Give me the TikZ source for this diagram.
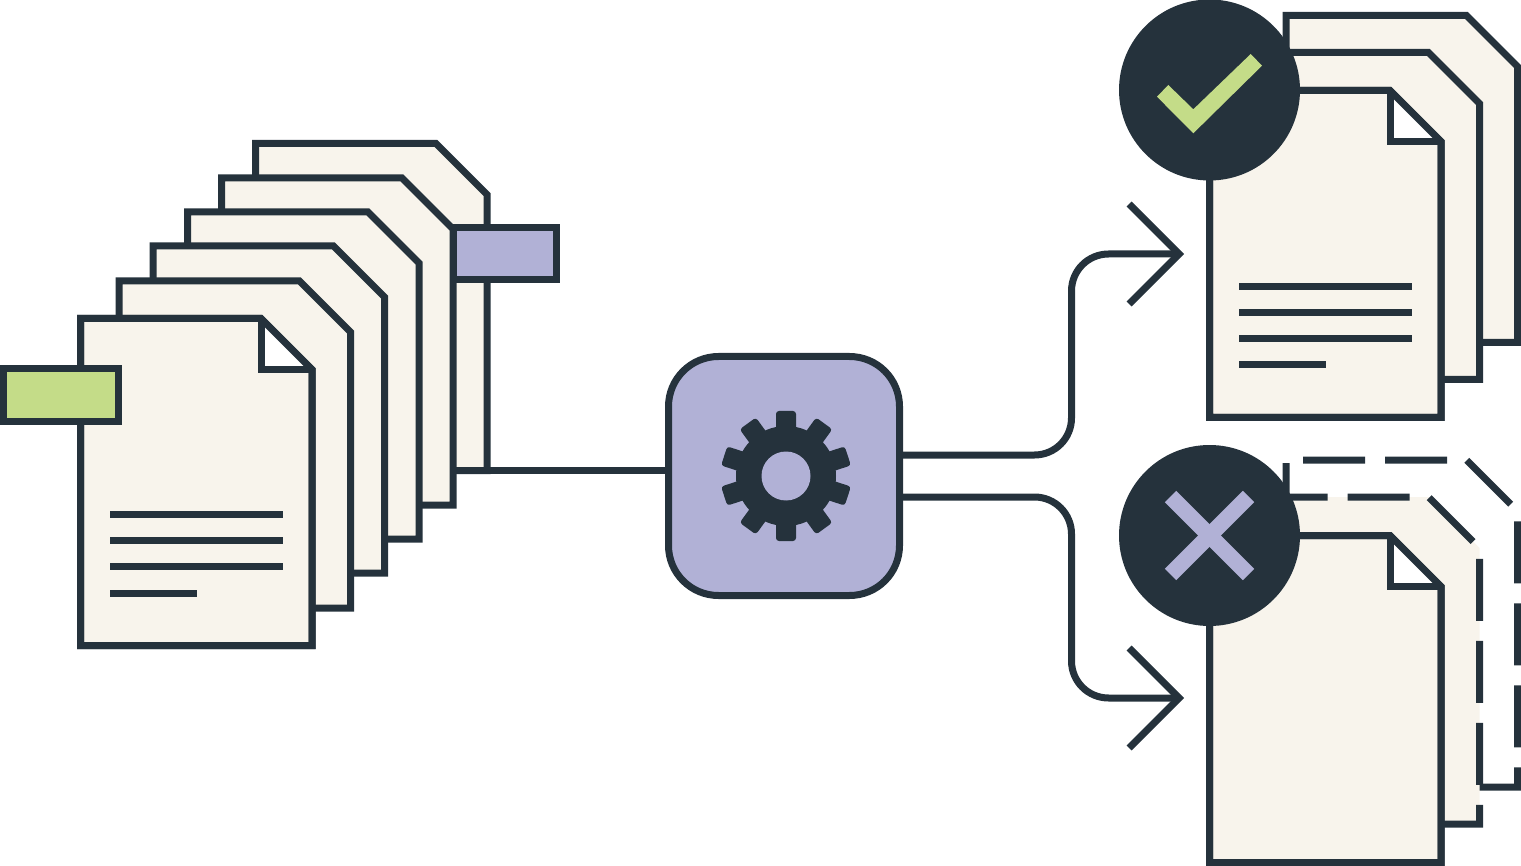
\documentclass[tikz,border=0pt]{standalone}
\usepackage{tikz}
\usetikzlibrary{arrows.meta,calc}
\definecolor{ink}{HTML}{25323C}
\definecolor{paper}{HTML}{F8F4EC}
\definecolor{lilac}{HTML}{B1B1D6}
\definecolor{leaf}{HTML}{C4DC88}
\tikzstyle{sheetbox}=[rectangle,anchor=north west,minimum width=231.5pt,minimum height=327pt,inner sep=0pt,outer sep=0pt]
\tikzstyle{sheetline}=[draw=ink,fill=paper]
\tikzstyle{gapline}=[draw=ink,dash pattern=on 62pt off 20pt]
\tikzstyle{tagbox}=[draw=ink,rectangle,inner sep=0pt,outer sep=0pt]
\tikzstyle{badge}=[fill=ink,circle,minimum size=181pt,inner sep=0pt,outer sep=0pt]
\tikzstyle{link}=[draw=ink,line width=7pt,rounded corners=37pt,-{Straight Barb[length=50pt,width=100pt,line width=7pt]}]
\newcommand{\docsheet}[3]{
  \node [sheetbox] (#1) at (#2,#3) {};
  \draw [sheetline] (#1.north west) -- ($(#1.north east)+(-51,0)$) -- ($(#1.north east)+(0,51)$)
    -- (#1.south east) -- (#1.south west) -- cycle;
}
\newcommand{\foldmark}[1]{
  \fill [white] ($(#1.north east)+(-51,0)$) -- ($(#1.north east)+(-51,51)$)
    -- ($(#1.north east)+(0,51)$) -- cycle;
  \draw [ink] (#1.north west) -- ($(#1.north east)+(-51,0)$) -- ($(#1.north east)+(0,51)$)
    -- (#1.south east) -- (#1.south west) -- cycle;
  \draw [ink] ($(#1.north east)+(-51,0)$) -- ($(#1.north east)+(-51,51)$) -- ($(#1.north east)+(0,51)$);
}
\newcommand{\textrows}[1]{
  \foreach \rowy in {196,222,248}
    \draw [ink] ($(#1.north west)+(29.5,\rowy)$) -- ($(#1.north west)+(202.5,\rowy)$);
  \draw [ink] ($(#1.north west)+(29.5,274.5)$) -- ($(#1.north west)+(116,274.5)$);
}
\begin{document}
\begin{tikzpicture}[x=1pt,y=-1pt,line width=7pt]
    \useasboundingbox (0,0) rectangle (1521,866);

    \docsheet{sheeta}{255.5}{143.5}
    \docsheet{sheetb}{221.5}{178}
    \docsheet{sheetc}{187.5}{212}
    \docsheet{sheetd}{153}{246}
    \docsheet{sheete}{119}{281}
    \docsheet{sheetf}{80.5}{318.5}
    \foldmark{sheetf}
    \textrows{sheetf}
    \node [tagbox,fill=leaf,minimum width=115pt,minimum height=53pt] (greentag) at (61,395.5) {};
    \node [tagbox,fill=lilac,minimum width=103pt,minimum height=52pt] (lilactag) at (505,253.5) {};

    \node [draw=ink,fill=lilac,rectangle,rounded corners=50pt,minimum width=231pt,minimum height=239pt,outer sep=0pt] (gearbox) at (784,476) {};
    \draw [ink] (sheeta.south east) -- (sheeta.south east -| gearbox.west);

    \coordinate (gearhub) at ($(gearbox.center)+(2,0)$);
    \fill [ink] (gearhub) circle (50);
    \foreach \toothangle in {18,54,...,342}
      \fill [ink,rounded corners=3pt,shift={(gearhub)},rotate=\toothangle]
        (45,-10) -- (65,-10) -- (65,10) -- (45,10) -- cycle;
    \node [fill=lilac,circle,minimum size=49pt,inner sep=0pt] (gearhole) at (gearhub) {};

    \docsheet{okback}{1286}{15.5}
    \docsheet{okmid}{1248}{52.5}
    \docsheet{okfront}{1209.5}{90.5}
    \foldmark{okfront}
    \textrows{okfront}

    \node [sheetbox] (failback) at (1286,460) {};
    \draw [gapline] ($(failback.north west)+(0,65)$) -- (failback.north west) -- ($(failback.north east)+(-51,0)$)
      -- ($(failback.north east)+(0,51)$) -- (failback.south east) -- ($(failback.south east)+(-45,0)$);
    \node [sheetbox] (failmid) at (1248,497) {};
    \fill [paper] (failmid.north west) -- ($(failmid.north east)+(-51,0)$) -- ($(failmid.north east)+(0,51)$)
      -- (failmid.south east) -- (failmid.south west) -- cycle;
    \draw [gapline,dash phase=20pt] ($(failmid.north west)+(37.5,0)$) -- ($(failmid.north east)+(-51,0)$)
      -- ($(failmid.north east)+(0,51)$) -- (failmid.south east) -- ($(failmid.south east)+(-45,0)$);
    \docsheet{failfront}{1209.5}{535.5}
    \foldmark{failfront}

    \node [badge] (okbadge) at (1209.5,90) {};
    \fill [leaf] ($(okbadge.center)+(-52.5,6.7)$) -- ($(okbadge.center)+(-41.2,-5)$) -- ($(okbadge.center)+(-16.2,19.3)$)
      -- ($(okbadge.center)+(41.2,-36)$) -- ($(okbadge.center)+(52.5,-24.3)$) -- ($(okbadge.center)+(-16.2,43.3)$) -- cycle;
    \node [badge] (failbadge) at (1209.5,535.5) {};
    \draw [lilac,line width=16pt] ($(failbadge.center)+(-39,-39)$) -- ($(failbadge.center)+(39,39)$);
    \draw [lilac,line width=16pt] ($(failbadge.center)+(39,-39)$) -- ($(failbadge.center)+(-39,39)$);

    \coordinate (okbend) at (1071.5,254);
    \coordinate (okin) at (1184,254);
    \coordinate (failbend) at (1071.5,698);
    \coordinate (failin) at (1184,698);
    \draw [link] ($(gearbox.east)+(0,-21)$) -| (okbend) -- (okin);
    \draw [link] ($(gearbox.east)+(0,21)$) -| (failbend) -- (failin);
\end{tikzpicture}
\end{document}
